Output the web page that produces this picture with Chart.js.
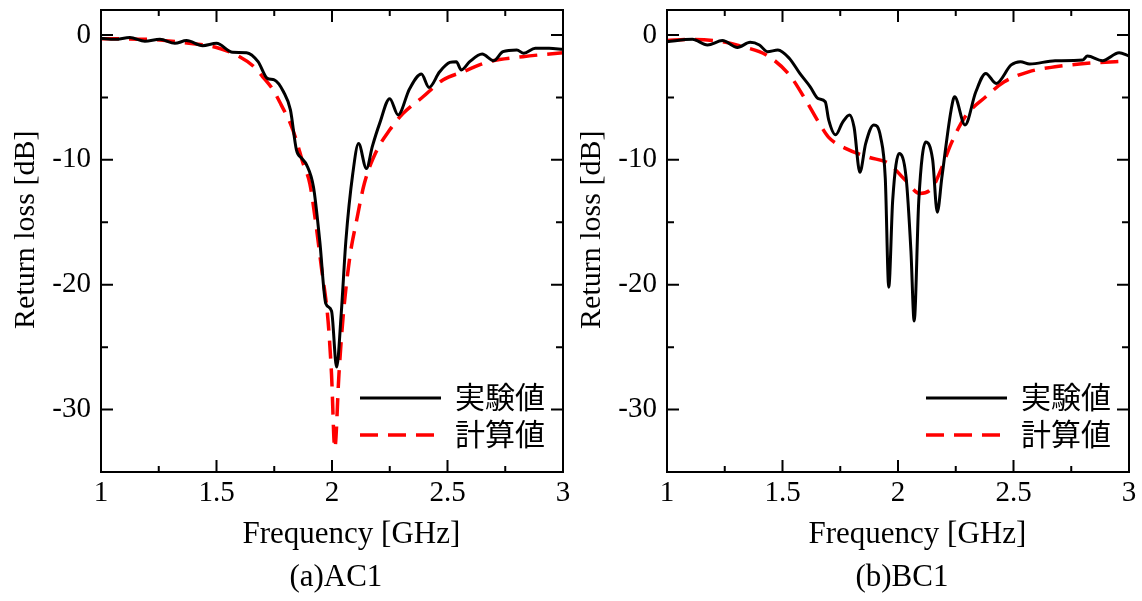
<!DOCTYPE html>
<html>
<head>
<meta charset="utf-8">
<script src="https://cdn.jsdelivr.net/npm/chart.js@4"></script>
<style>
  body { margin: 0; background: #fff; }
  #wrap { position: relative; width: 1142px; height: 601px; }
  .box { position: absolute; top: 0; width: 576px; height: 601px; }
</style>
</head>
<body>
<div id="wrap">
  <div class="box" style="left:0px"><canvas id="chartA"></canvas></div>
  <div class="box" style="left:566px"><canvas id="chartB"></canvas></div>
</div>
<script>
// axes
const xMajorTicks = [1, 1.5, 2, 2.5, 3];
const xMinorTicks = [1.25, 1.75, 2.25, 2.75];
const yMajorTicks = [0, -10, -20, -30];
const yMinorTicks = [-5, -15, -25];
const seriesLabels = ['実験値', '計算値'];

// (a) AC1 - measured
const acMeasFreq = [1.0, 1.06, 1.125, 1.19, 1.255, 1.32, 1.37, 1.44, 1.50, 1.57, 1.63, 1.68, 1.72, 1.75, 1.79, 1.82, 1.846, 1.87, 1.89, 1.92, 1.947, 1.973, 1.998, 2.02, 2.04, 2.06, 2.09, 2.115, 2.149, 2.175, 2.206, 2.25, 2.286, 2.336, 2.387, 2.42, 2.466, 2.51, 2.538, 2.56, 2.596, 2.65, 2.70, 2.74, 2.80, 2.83, 2.88, 2.94, 3.0];
const acMeasDb = [-0.27, -0.35, -0.2, -0.5, -0.35, -0.67, -0.45, -0.86, -0.67, -1.39, -1.42, -2.14, -3.48, -3.6, -4.55, -6.0, -9.2, -9.9, -10.4, -12.2, -16.5, -21.5, -22.1, -26.6, -22.3, -16.5, -11.1, -8.7, -10.7, -8.9, -7.1, -5.1, -6.4, -4.3, -3.13, -4.2, -2.95, -2.2, -2.14, -2.8, -2.14, -1.53, -2.06, -1.34, -1.2, -1.47, -1.07, -1.07, -1.15];
// (a) AC1 - calculated
const acCalcFreq = [1.0, 1.2, 1.4, 1.5, 1.6, 1.66, 1.70, 1.745, 1.78, 1.82, 1.845, 1.875, 1.904, 1.93, 1.954, 1.983, 1.998, 2.012, 2.03, 2.048, 2.077, 2.106, 2.14, 2.19, 2.25, 2.307, 2.394, 2.48, 2.567, 2.68, 2.826, 3.0];
const acCalcDb = [-0.3, -0.35, -0.7, -1.0, -1.74, -2.5, -3.35, -4.4, -5.6, -7.1, -8.4, -10.3, -11.9, -15.1, -18.6, -22.9, -27.2, -33.1, -27.2, -22.6, -17.8, -14.9, -11.9, -9.4, -7.6, -6.3, -4.95, -3.6, -2.95, -2.14, -1.74, -1.42];

// (b) BC1 - measured
const bcMeasFreq = [1.0, 1.11, 1.175, 1.24, 1.305, 1.36, 1.40, 1.435, 1.48, 1.53, 1.575, 1.62, 1.655, 1.685, 1.70, 1.73, 1.76, 1.79, 1.81, 1.835, 1.86, 1.895, 1.925, 1.945, 1.96, 1.977, 2.005, 2.035, 2.056, 2.07, 2.09, 2.12, 2.15, 2.17, 2.19, 2.23, 2.245, 2.29, 2.337, 2.38, 2.425, 2.49, 2.53, 2.57, 2.68, 2.80, 2.82, 2.885, 2.957, 3.0];
const bcMeasDb = [-0.54, -0.35, -0.8, -0.45, -1.0, -0.59, -0.8, -1.34, -1.2, -1.88, -3.08, -4.15, -5.1, -5.35, -6.8, -8.0, -7.0, -6.4, -7.4, -11.0, -8.7, -7.2, -8.2, -11.5, -20.2, -13.25, -9.5, -11.4, -17.3, -22.9, -13.25, -8.57, -10.0, -14.2, -11.4, -6.0, -4.95, -7.2, -4.55, -3.08, -3.88, -2.4, -2.14, -2.33, -2.06, -2.0, -1.69, -2.06, -1.42, -1.69];
// (b) BC1 - calculated
const bcCalcFreq = [1.0, 1.10, 1.24, 1.33, 1.43, 1.53, 1.60, 1.66, 1.70, 1.775, 1.875, 1.96, 2.03, 2.095, 2.15, 2.19, 2.23, 2.29, 2.38, 2.46, 2.565, 2.68, 2.82, 3.0];
const bcCalcDb = [-0.45, -0.35, -0.54, -0.94, -1.6, -3.2, -5.2, -7.1, -8.2, -9.1, -9.8, -10.3, -11.6, -12.7, -12.2, -10.6, -8.7, -6.56, -4.95, -3.75, -2.95, -2.55, -2.27, -2.09];

const serif = 'Liberation Serif';

function toPoints(xs, ys) {
    return xs.map((x, i) => ({ x: x, y: ys[i] }));
}

// box, inward ticks and the legend inside the plot
const framePlugin = {
    id: 'frame',
    afterDraw(chart) {
        const c = chart.ctx;
        const a = chart.chartArea;
        const xs = chart.scales.x;
        const ys = chart.scales.y;
        c.save();
        c.strokeStyle = '#000';
        c.lineWidth = 2;
        c.strokeRect(a.left, a.top, a.right - a.left, a.bottom - a.top);

        function xTick(v, len) {
            const px = xs.getPixelForValue(v);
            c.beginPath();
            c.moveTo(px, a.bottom); c.lineTo(px, a.bottom - len);
            c.moveTo(px, a.top); c.lineTo(px, a.top + len);
            c.stroke();
        }
        function yTick(v, len) {
            const py = ys.getPixelForValue(v);
            c.beginPath();
            c.moveTo(a.left, py); c.lineTo(a.left + len, py);
            c.moveTo(a.right, py); c.lineTo(a.right - len, py);
            c.stroke();
        }
        xMajorTicks.forEach(v => xTick(v, 12));
        xMinorTicks.forEach(v => xTick(v, 6));
        yMajorTicks.forEach(v => yTick(v, 12));
        yMinorTicks.forEach(v => yTick(v, 7));

        // legend
        c.font = '30px "Noto Sans CJK JP"';
        c.textBaseline = 'middle';
        c.textAlign = 'left';
        c.fillStyle = '#000';
        chart.data.datasets.forEach((ds, i) => {
            const y = a.bottom - 74 + i * 37;
            c.beginPath();
            c.strokeStyle = ds.borderColor;
            c.lineWidth = ds.borderWidth;
            c.setLineDash(ds.borderDash || []);
            c.moveTo(a.right - 203, y);
            c.lineTo(a.right - 122, y);
            c.stroke();
            c.setLineDash([]);
            c.fillText(ds.label, a.right - 108, y - 1);
        });
        c.restore();
    }
};

function makeChart(el, caption, measFreq, measDb, calcFreq, calcDb) {
    return new Chart(el, {
        type: 'line',
        data: {
            datasets: [{
                label: seriesLabels[0],
                data: toPoints(measFreq, measDb),
                borderColor: '#000',
                borderWidth: 3,
                pointRadius: 0,
                cubicInterpolationMode: 'monotone'
            }, {
                label: seriesLabels[1],
                data: toPoints(calcFreq, calcDb),
                borderColor: '#ff0000',
                borderWidth: 3.5,
                borderDash: [18, 10],
                pointRadius: 0,
                cubicInterpolationMode: 'monotone'
            }]
        },
        options: {
            responsive: true,
            maintainAspectRatio: false,
            animation: false,
            layout: { autoPadding: false, padding: { left: 0, top: 10, right: 13, bottom: 0 } },
            plugins: {
                legend: { display: false },
                tooltip: { enabled: false }
            },
            scales: {
                x: {
                    type: 'linear',
                    min: 1,
                    max: 3,
                    afterBuildTicks: s => { s.ticks = xMajorTicks.map(v => ({ value: v })); },
                    afterFit: s => { s.height = 129; s.paddingLeft = 0; s.paddingRight = 0; },
                    grid: { display: false, drawTicks: false },
                    border: { display: false },
                    ticks: {
                        color: '#000',
                        padding: 4,
                        maxRotation: 0,
                        font: { family: serif, size: 29 },
                        callback: v => String(v)
                    },
                    title: {
                        display: true,
                        // axis title, then the panel caption under it
                        // (leading spaces nudge the lines right, as in the original)
                        text: ['     Frequency [GHz]', ' ' + caption],
                        color: '#000',
                        font: { family: serif, size: 31, lineHeight: 1.4 },
                        padding: { top: 0, bottom: 1 }
                    }
                },
                y: {
                    min: -35,
                    max: 2,
                    afterBuildTicks: s => { s.ticks = yMajorTicks.map(v => ({ value: v })); },
                    afterFit: s => { s.width = 101; s.paddingTop = 0; s.paddingBottom = 0; },
                    grid: { display: false, drawTicks: false },
                    border: { display: false },
                    ticks: {
                        color: '#000',
                        padding: 10,
                        font: { family: serif, size: 29 },
                        callback: v => String(v)
                    },
                    title: {
                        display: true,
                        text: '   Return loss [dB]',
                        color: '#000',
                        font: { family: serif, size: 30 },
                        padding: { top: 8, bottom: 0 }
                    }
                }
            }
        },
        plugins: [framePlugin]
    });
}

makeChart(document.getElementById('chartA'), '(a)AC1', acMeasFreq, acMeasDb, acCalcFreq, acCalcDb);
makeChart(document.getElementById('chartB'), '(b)BC1', bcMeasFreq, bcMeasDb, bcCalcFreq, bcCalcDb);
</script>
</body>
</html>
